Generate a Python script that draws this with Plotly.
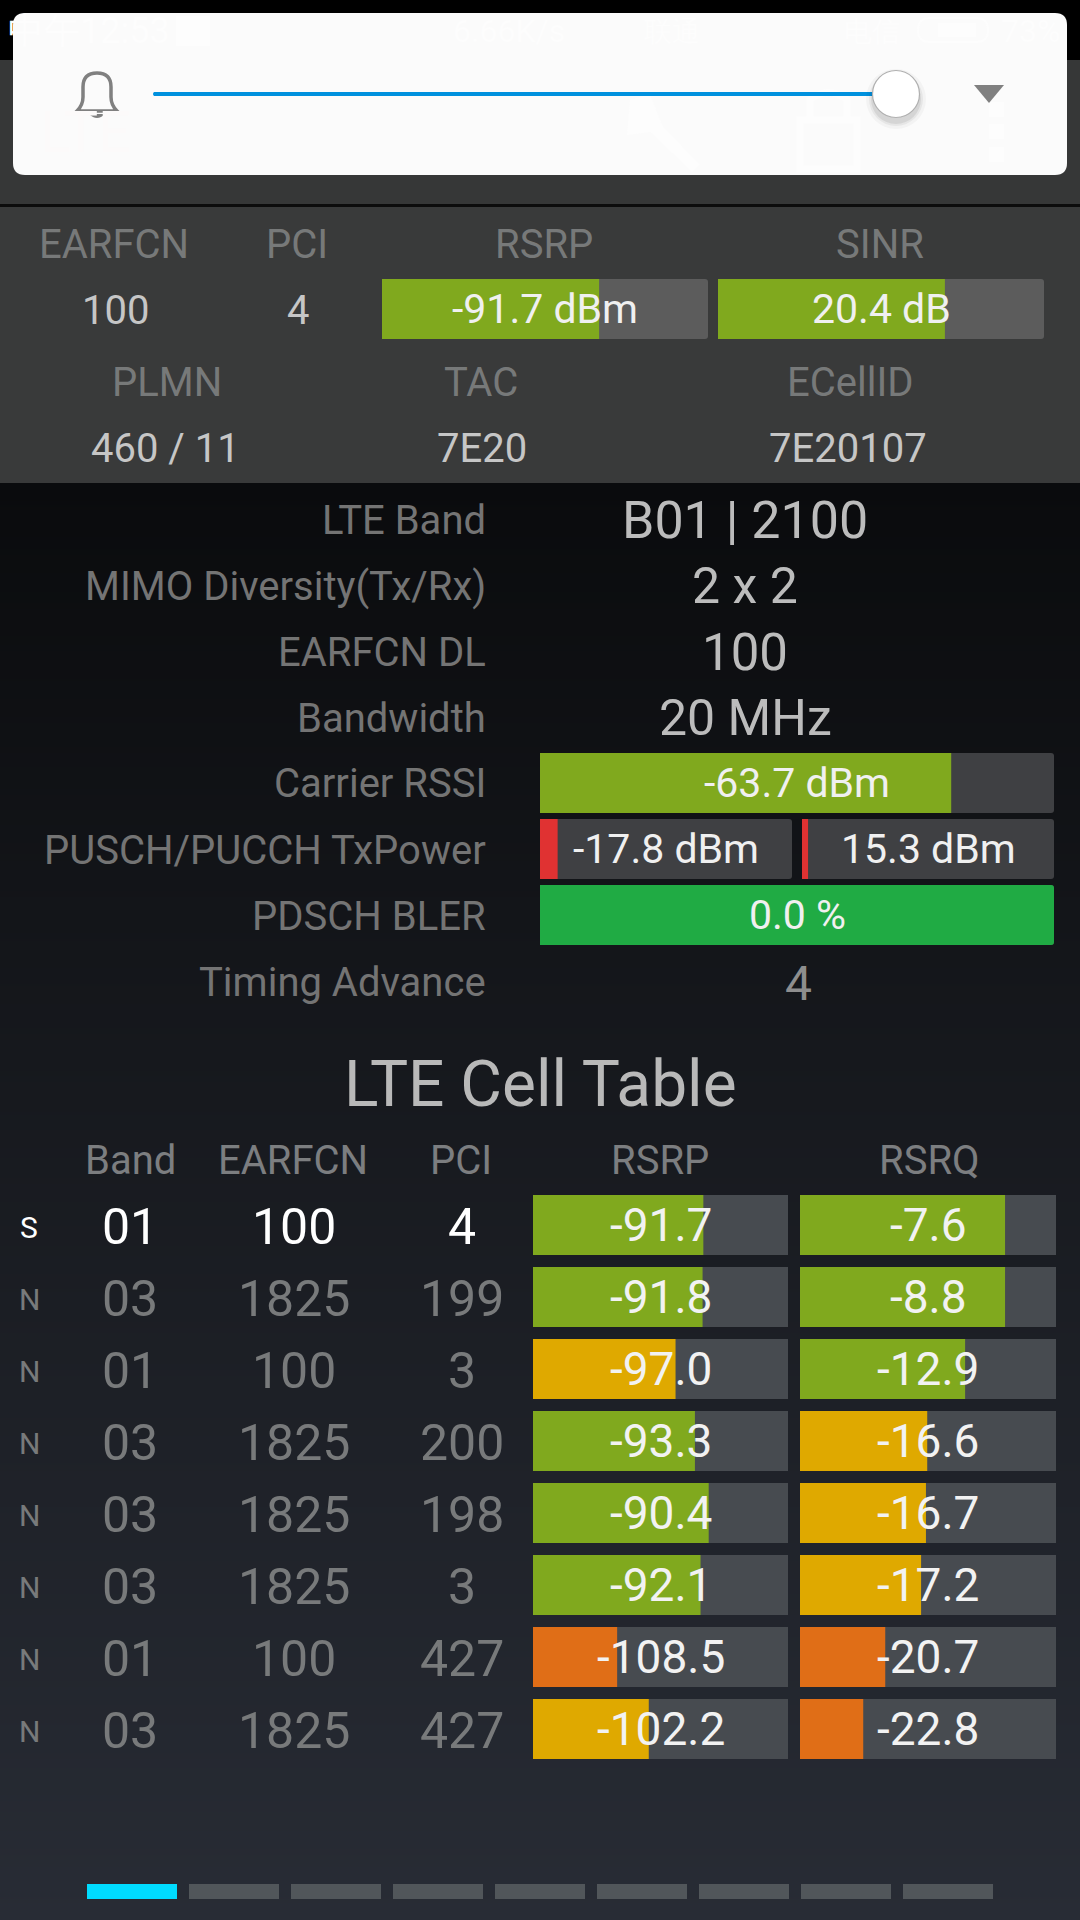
import plotly.graph_objects as go

# serving cell summary
top_labels = ["EARFCN", "PCI", "RSRP", "SINR", "PLMN", "TAC", "ECellID"]
top_values = ["100", "4", "460 / 11", "7E20", "7E20107"]
rsrp_label, rsrp_fill = "-91.7 dBm", 66.6
sinr_label, sinr_fill = "20.4 dB", 69.6

# detail rows
detail_names = ["LTE Band", "MIMO Diversity(Tx/Rx)", "EARFCN DL", "Bandwidth", "Carrier RSSI",
                "PUSCH/PUCCH TxPower", "PDSCH BLER", "Timing Advance"]
detail_values = ["B01 | 2100", "2 x 2", "100", "20 MHz"]
timing_advance = "4"
rssi_label, rssi_fill = "-63.7 dBm", 80.0
pusch_label, pusch_fill = "-17.8 dBm", 7.0
pucch_label, pucch_fill = "15.3 dBm", 2.4
bler_label, bler_fill = "0.0 %", 100

# LTE cell table
table_title = "LTE Cell Table"
table_headers = ["Band", "EARFCN", "PCI", "RSRP", "RSRQ"]
cell_type = ["S", "N", "N", "N", "N", "N", "N", "N"]
cell_band = ["01", "03", "01", "03", "03", "03", "01", "03"]
cell_earfcn = ["100", "1825", "100", "1825", "1825", "1825", "100", "1825"]
cell_pci = ["4", "199", "3", "200", "198", "3", "427", "427"]
cell_rsrp = ["-91.7", "-91.8", "-97.0", "-93.3", "-90.4", "-92.1", "-108.5", "-102.2"]
cell_rsrq = ["-7.6", "-8.8", "-12.9", "-16.6", "-16.7", "-17.2", "-20.7", "-22.8"]
rsrp_fills = [66.8, 66.5, 55.9, 63.5, 68.9, 65.7, 33.0, 45.4]
rsrq_fills = [80.1, 80.1, 64.5, 49.7, 49.2, 47.3, 33.3, 24.7]
rsrp_levels = ["good", "good", "fair", "good", "good", "good", "poor", "fair"]
rsrq_levels = ["good", "good", "good", "fair", "fair", "fair", "poor", "poor"]

pages = list(range(9))
active_page = 0

LEVEL = {"good": "#80a91e", "fair": "#dfa900", "poor": "#e06e17", "bad": "#e03232", "best": "#20ab44"}
FONT = "Roboto"
GHOST = "#fdfdfd"
W, H = 1080, 1920

fig = go.Figure()
layout_axes = {}
axis_count = 2


def off(**kw):
    return dict(visible=False, fixedrange=True, **kw)


def new_axes(box, xrange, yrange):
    # one x/y pair placed on the page by pixel box
    global axis_count
    axis_count += 1
    n = axis_count
    x0, y0, x1, y1 = box
    layout_axes[f"xaxis{n}"] = off(domain=[x0 / W, x1 / W], range=xrange, anchor=f"y{n}")
    layout_axes[f"yaxis{n}"] = off(domain=[1 - y1 / H, 1 - y0 / H], range=yrange, anchor=f"x{n}")
    return f"x{n}", f"y{n}"


def add_bars(xa, ya, y, fills, colors, track, width, radius):
    fig.add_trace(go.Bar(x=[100] * len(y), y=y, orientation="h", width=width, xaxis=xa, yaxis=ya,
                         marker=dict(color=track, line_width=0, cornerradius=radius)))
    fig.add_trace(go.Bar(x=fills, y=y, orientation="h", width=width, xaxis=xa, yaxis=ya,
                         marker=dict(color=colors, line_width=0, cornerradius=radius)))


def text(s, x, y, size, color, anchor="center", xref="x2", yref="y2", yshift=0):
    fig.add_annotation(x=x, y=y, text=s, xref=xref, yref=yref, showarrow=False, xanchor=anchor,
                       yanchor="middle", yshift=yshift, font=dict(family=FONT, size=size, color=color))


def add_gauge(box, fill, level, label, track, size=41):
    xa, ya = new_axes(box, [0, 100], [-0.5, 0.5])
    add_bars(xa, ya, [0], [fill], [LEVEL[level]], track, 1, 3)
    text(label, 50, 0, size, "#f0f0f0", xref=xa, yref=ya)


def rect(x0, y0, x1, y1, color, layer="below"):
    fig.add_shape(type="rect", xref="x2", yref="y2", x0=x0, y0=y0, x1=x1, y1=y1,
                  fillcolor=color, line_width=0, layer=layer)


def path(d, fill=None, line=None, width=0):
    fig.add_shape(type="path", xref="x2", yref="y2", path=d, layer="above",
                  fillcolor=fill or "rgba(0,0,0,0)", line=dict(color=line or "rgba(0,0,0,0)", width=width))


# gradient behind the lower part of the screen
fig.add_trace(go.Heatmap(z=[[0, 0], [1, 1]], x=[0, 1], y=[0, 1], zsmooth="best", showscale=False, hoverinfo="skip",
                         colorscale=[[0, "#0a0b0d"], [1, "#282c35"]], zmin=0, zmax=1))
layout_axes["xaxis"] = off(domain=[0, 1], range=[0, 1])
layout_axes["yaxis"] = off(domain=[0, 1 - 483 / H], range=[1, 0])

# pixel axes for the screen furniture
layout_axes["xaxis2"] = off(domain=[0, 1], range=[0, W], anchor="y2")
layout_axes["yaxis2"] = off(domain=[0, 1], range=[H, 0], anchor="x2")
fig.add_trace(go.Scatter(x=[0], y=[0], mode="markers", marker_opacity=0, xaxis="x2", yaxis="y2", hoverinfo="skip"))

rect(0, 0, W, 60, "#000000")
rect(0, 60, W, 204, "#363737")
rect(0, 204, W, 207, "#0c0c0c")
rect(0, 207, W, 483, "#393a3a")

# volume card over the status bar
path("M 25 13 L 1055 13 Q 1067 13 1067 25 L 1067 163 Q 1067 175 1055 175 L 25 175 Q 13 175 13 163 L 13 25 Q 13 13 25 13 Z",
     fill="#fbfbfb")
for s, x, y, size in [("中午12:53", 89, 31, 36), ("6.66K/s", 509, 31, 32), ("联通", 672, 31, 28),
                      ("电信", 872, 31, 28), ("73%", 1030, 31, 32)]:
    text(s, x, y, size, GHOST)
text("LTE", 85, 132, 58, "#fcfafa")
path("M 930 18 L 976 18 Q 988 18 988 30 Q 988 42 976 42 L 930 42 Q 918 42 918 30 Q 918 18 930 18 Z", line=GHOST, width=2)
path("M 938 23 L 976 23 L 976 37 L 938 37 Z", fill=GHOST)
path("M 176 16 L 210 16 L 210 46 L 176 46 Z", fill=GHOST)
path("M 630 100 L 650 94 L 662 125 L 700 165 L 692 172 L 650 132 L 627 135 Z", fill=GHOST)
path("M 800 120 L 857 120 L 857 169 L 800 169 Z", line=GHOST, width=7)
path("M 810 117 L 810 100 Q 828 85 847 100 L 847 117", line=GHOST, width=7)
for y0 in [102, 124, 147]:
    path(f"M 989 {y0} L 1004 {y0} L 1004 {y0 + 15} L 989 {y0 + 15} Z", fill=GHOST)
path("M 154 92 L 873 92 L 873 96 L 154 96 Q 152 94 154 92 Z", fill="#0091de")
path("M 77 111 Q 83 105 83 97 L 83 87 Q 83 73 97 73 Q 111 73 111 87 L 111 97 Q 111 105 117 111 Z",
     line="#808080", width=3.5)
path("M 89 114 L 105 114 Q 97 122 89 114 Z", fill="#808080")
path("M 974 85 L 1004 85 L 989 103 Z", fill="#808080")
for r, alpha in [(30, 0.03), (27, 0.05), (25, 0.07)]:
    fig.add_shape(type="circle", xref="x2", yref="y2", x0=896 - r, x1=896 + r, y0=99 - r, y1=99 + r,
                  fillcolor=f"rgba(0,0,0,{alpha})", line_width=0, layer="above")
fig.add_shape(type="circle", xref="x2", yref="y2", x0=872.5, x1=919.5, y0=70.5, y1=117.5, fillcolor="#ffffff",
              line=dict(color="#b0b0b0", width=1.2), layer="above")

# summary panel
for s, x, y in zip(top_labels, [114, 297, 544, 880, 167, 481, 850], [244, 244, 244, 244, 382, 382, 382]):
    text(s, x, y, 40, "#777979")
for s, x, y in zip(top_values, [115, 298, 165, 482, 848], [310, 310, 448, 448, 448]):
    text(s, x, y, 40, "#c6c6c6")
add_gauge((382, 279, 708, 339), rsrp_fill, "good", rsrp_label, "#5c5c5c")
add_gauge((718, 279, 1044, 339), sinr_fill, "good", sinr_label, "#5c5c5c")

# detail rows
detail_y = [520, 586, 652, 718, 783, 850, 916, 982]
for s, y in zip(detail_names, detail_y):
    text(s, 488, y, 40, "#747474", anchor="right")
for s, y, size in zip(detail_values, detail_y, [52, 50, 51, 50]):
    text(s, 745, y, size, "#bcbcbc")
text(timing_advance, 798, 983, 48, "#8e8e8e")
add_gauge((540, 753, 1054, 813), rssi_fill, "good", rssi_label, "#3f4043")
add_gauge((540, 819, 792, 879), pusch_fill, "bad", pusch_label, "#3f4043")
add_gauge((802, 819, 1054, 879), pucch_fill, "bad", pucch_label, "#3f4043")
add_gauge((540, 885, 1054, 945), bler_fill, "best", bler_label, "#3f4043")

# cell table
text(table_title, 540, 1084, 64, "#b9b9b9")
for s, x in zip(table_headers, [130, 293, 461, 660, 929]):
    text(s, x, 1160, 40, "#7c7e80")

rows = list(range(len(cell_band)))
table_top, table_bottom = 1189, 1765
xa_tbl, ya_tbl = new_axes((0, table_top, W, table_bottom), [0, W], [7.5, -0.5])
fig.add_trace(go.Scatter(x=[0], y=[0], mode="markers", marker_opacity=0, xaxis=xa_tbl, yaxis=ya_tbl, hoverinfo="skip"))
for values, col_x, size in [(cell_band, 130, 50), (cell_earfcn, 294, 50), (cell_pci, 462, 50), (cell_type, 29, 30)]:
    for r, v, t in zip(rows, values, cell_type):
        text(v, col_x, r, size, "#ffffff" if t == "S" else "#787a7b", xref=xa_tbl, yref=ya_tbl, yshift=-2)

for x0, x1, fills, levels, labels in [(533, 788, rsrp_fills, rsrp_levels, cell_rsrp),
                                      (800, 1056, rsrq_fills, rsrq_levels, cell_rsrq)]:
    xa, ya = new_axes((x0, table_top, x1, table_bottom), [0, 100], [7.5, -0.5])
    add_bars(xa, ya, rows, fills, [LEVEL[v] for v in levels], "#474b50", 60 / 72, 0)
    for r, v in zip(rows, labels):
        text(v, 50, r, 46, "#f2f2f2", xref=xa, yref=ya)

# page indicator
xa, ya = new_axes((81, 1884, 999, 1899), [-0.5, 8.5], [0, 1])
fig.add_trace(go.Bar(x=pages, y=[1] * len(pages), width=90 / 102, xaxis=xa, yaxis=ya,
                     marker=dict(color=["#00dcff" if p == active_page else "#51565a" for p in pages], line_width=0)))

fig.update_layout(width=W, height=H, margin=dict(l=0, r=0, t=0, b=0), barmode="overlay", showlegend=False,
                  hovermode=False, paper_bgcolor="#000000", plot_bgcolor="rgba(0,0,0,0)", **layout_axes)

fig.write_html("out.html", config={"displayModeBar": False},
               post_script="document.body.style.margin='0';document.body.style.background='#000';")
